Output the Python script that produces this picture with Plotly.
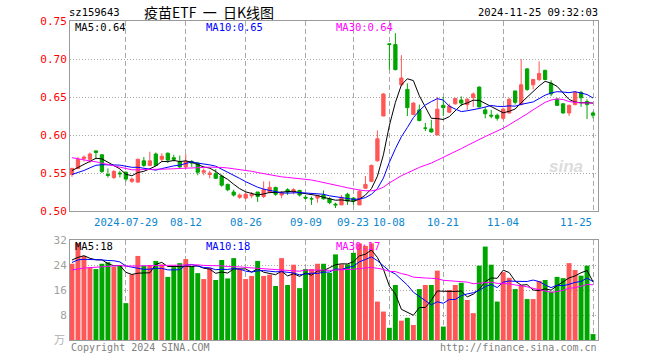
import plotly.graph_objects as go
import pandas as pd

# ---------------- data ----------------
dates = [
    "2024-07-16", "2024-07-17", "2024-07-18", "2024-07-19", "2024-07-22", "2024-07-23", "2024-07-24",
    "2024-07-25", "2024-07-26", "2024-07-29", "2024-07-30", "2024-07-31",
    "2024-08-01", "2024-08-02", "2024-08-05", "2024-08-06", "2024-08-07", "2024-08-08", "2024-08-09",
    "2024-08-12", "2024-08-13", "2024-08-14", "2024-08-15", "2024-08-16", "2024-08-19", "2024-08-20",
    "2024-08-21", "2024-08-22", "2024-08-23", "2024-08-26", "2024-08-27", "2024-08-28", "2024-08-29",
    "2024-08-30",
    "2024-09-02", "2024-09-03", "2024-09-04", "2024-09-05", "2024-09-06", "2024-09-09", "2024-09-10",
    "2024-09-11", "2024-09-12", "2024-09-13", "2024-09-18", "2024-09-19", "2024-09-20", "2024-09-23",
    "2024-09-24", "2024-09-25", "2024-09-26", "2024-09-27", "2024-09-30",
    "2024-10-08", "2024-10-09", "2024-10-10", "2024-10-11", "2024-10-14", "2024-10-15", "2024-10-16",
    "2024-10-17", "2024-10-18", "2024-10-21", "2024-10-22", "2024-10-23", "2024-10-24", "2024-10-25",
    "2024-10-28", "2024-10-29", "2024-10-30", "2024-10-31",
    "2024-11-01", "2024-11-04", "2024-11-05", "2024-11-06", "2024-11-07", "2024-11-08", "2024-11-11",
    "2024-11-12", "2024-11-13", "2024-11-14", "2024-11-15", "2024-11-18", "2024-11-19", "2024-11-20",
    "2024-11-21", "2024-11-22", "2024-11-25",
]

open_ = [
    0.548, 0.556, 0.569, 0.568, 0.579, 0.574, 0.548, 0.544, 0.550, 0.551,
    0.539, 0.538, 0.566, 0.560, 0.575, 0.568, 0.576, 0.570, 0.565, 0.558,
    0.565, 0.563, 0.551, 0.548, 0.549, 0.546, 0.535, 0.525, 0.518, 0.517,
    0.520, 0.525, 0.519, 0.525, 0.531, 0.521, 0.528, 0.525, 0.527, 0.518,
    0.516, 0.517, 0.521, 0.516, 0.509, 0.508, 0.522, 0.517, 0.508, 0.530,
    0.539, 0.566, 0.625, 0.720, 0.719, 0.666, 0.660, 0.627, 0.633, 0.609,
    0.608, 0.600, 0.639, 0.630, 0.641, 0.646, 0.640, 0.649, 0.663, 0.633,
    0.626, 0.626, 0.622, 0.629, 0.658, 0.640, 0.687, 0.666, 0.673, 0.685,
    0.668, 0.647, 0.641, 0.629, 0.640, 0.656, 0.644, 0.629,
]
high = [
    0.557, 0.571, 0.573, 0.577, 0.580, 0.575, 0.556, 0.554, 0.553, 0.552,
    0.544, 0.569, 0.571, 0.578, 0.577, 0.576, 0.577, 0.574, 0.573, 0.575,
    0.567, 0.564, 0.556, 0.553, 0.555, 0.548, 0.536, 0.528, 0.523, 0.524,
    0.525, 0.525, 0.539, 0.539, 0.532, 0.526, 0.530, 0.530, 0.528, 0.521,
    0.519, 0.520, 0.527, 0.518, 0.511, 0.521, 0.524, 0.518, 0.528, 0.546,
    0.561, 0.606, 0.655, 0.720, 0.734, 0.705, 0.668, 0.643, 0.640, 0.616,
    0.620, 0.650, 0.650, 0.641, 0.649, 0.651, 0.649, 0.656, 0.664, 0.637,
    0.633, 0.628, 0.636, 0.649, 0.658, 0.700, 0.688, 0.674, 0.697, 0.686,
    0.672, 0.649, 0.642, 0.640, 0.658, 0.658, 0.647, 0.631,
]
low = [
    0.545, 0.555, 0.565, 0.563, 0.568, 0.550, 0.544, 0.542, 0.544, 0.539,
    0.537, 0.537, 0.558, 0.559, 0.559, 0.564, 0.563, 0.565, 0.556, 0.556,
    0.558, 0.547, 0.547, 0.543, 0.542, 0.532, 0.526, 0.519, 0.516, 0.515,
    0.517, 0.512, 0.517, 0.523, 0.520, 0.517, 0.521, 0.522, 0.519, 0.515,
    0.508, 0.511, 0.515, 0.509, 0.504, 0.508, 0.508, 0.508, 0.508, 0.529,
    0.538, 0.565, 0.625, 0.686, 0.685, 0.665, 0.625, 0.626, 0.618, 0.605,
    0.603, 0.600, 0.625, 0.629, 0.640, 0.638, 0.633, 0.637, 0.636, 0.622,
    0.622, 0.619, 0.620, 0.628, 0.640, 0.639, 0.658, 0.660, 0.671, 0.672,
    0.651, 0.638, 0.628, 0.625, 0.639, 0.637, 0.621, 0.622,
]
close = [
    0.556, 0.568, 0.571, 0.575, 0.577, 0.552, 0.547, 0.552, 0.549, 0.542,
    0.542, 0.568, 0.560, 0.566, 0.560, 0.572, 0.567, 0.568, 0.558, 0.565,
    0.563, 0.551, 0.553, 0.550, 0.543, 0.534, 0.528, 0.521, 0.521, 0.522,
    0.522, 0.519, 0.528, 0.531, 0.522, 0.524, 0.525, 0.528, 0.521, 0.517,
    0.516, 0.520, 0.516, 0.511, 0.508, 0.518, 0.513, 0.513, 0.526, 0.535,
    0.560, 0.595, 0.654, 0.719, 0.686, 0.675, 0.636, 0.642, 0.619, 0.609,
    0.604, 0.634, 0.636, 0.638, 0.648, 0.642, 0.647, 0.654, 0.637, 0.628,
    0.625, 0.622, 0.634, 0.647, 0.643, 0.666, 0.660, 0.673, 0.681, 0.673,
    0.654, 0.639, 0.629, 0.639, 0.656, 0.649, 0.640, 0.626,
]
volume = [  # 万
    24.4, 31.0, 26.9, 23.3, 22.7, 24.4, 24.9, 23.4, 23.8, 11.8,
    21.0, 26.9, 23.8, 24.0, 25.3, 24.2, 20.2, 23.3, 24.6, 25.9,
    23.5, 21.4, 19.5, 23.1, 19.2, 25.6, 19.7, 26.2, 22.7, 19.5,
    20.5, 25.3, 20.5, 20.9, 17.3, 26.2, 17.6, 24.1, 16.6, 22.7,
    22.7, 24.4, 24.4, 21.5, 27.4, 24.2, 24.2, 27.9, 30.9, 30.1,
    30.9, 12.3, 9.1, 3.9, 17.6, 6.2, 7.1, 4.8, 16.3, 17.6,
    17.6, 22.2, 4.3, 16.0, 17.6, 18.3, 12.8, 8.6, 23.8, 29.9,
    24.1, 12.3, 21.7, 19.9, 16.3, 17.6, 13.1, 13.1, 18.9, 19.2,
    15.5, 20.2, 19.8, 24.6, 22.4, 20.6, 23.8, 1.9,
]
# closes / volumes before the visible window, estimated from where the MA lines start
prior_close = [
    0.618, 0.615, 0.612, 0.610, 0.607, 0.605, 0.603, 0.606, 0.604,
    0.575, 0.566, 0.560, 0.558, 0.556, 0.560, 0.562, 0.557, 0.553, 0.550, 0.548,
    0.545, 0.542, 0.540, 0.543, 0.545,
    0.548, 0.551, 0.554, 0.557,
]
prior_volume = [
    18.5, 21.0, 19.2, 17.8, 20.4, 22.1, 18.9, 19.6, 17.5, 20.0,
    23.5, 21.8, 24.6, 22.0, 20.9, 25.3, 23.1, 22.4, 21.7,
    23.7, 22.6, 25.1, 23.4, 24.8, 24.1,
    26.8, 24.2, 27.5, 25.1,
]

tick_dates = ["2024-07-29", "2024-08-12", "2024-08-26", "2024-09-09", "2024-09-23",
              "2024-10-08", "2024-10-21", "2024-11-04", "2024-11-25"]
tick_labels = ["2024-07-29", "08-12", "08-26", "09-09", "09-23", "10-08", "10-21", "11-04", "11-25"]
price_ticks = [0.50, 0.55, 0.60, 0.65, 0.70, 0.75]
volume_ticks = [8, 16, 24, 32]
ma_periods = [5, 10, 30]
ma_colors = ["#000000", "#0000ff", "#ff00ff"]

symbol = "sz159643"
title = "疫苗ETF\u00a0\u00a0一\u00a0\u00a0日K线图"
timestamp = "2024-11-25 09:32:03"

# ---------------- figure ----------------
RED = "#ff5757"
GREEN = "#00a600"
MONO = "DejaVu Sans Mono"

n = len(dates)
x = list(range(n))
tick_idx = [dates.index(d) for d in tick_dates]

cs = pd.Series(prior_close + close)
vs = pd.Series(prior_volume + volume)
price_ma = {p: cs.rolling(p).mean().iloc[len(prior_close):].tolist() for p in ma_periods}
vol_ma = {p: vs.rolling(p).mean().iloc[len(prior_volume):].tolist() for p in ma_periods}

fig = go.Figure()

fig.add_trace(go.Candlestick(
    x=x, open=open_, high=high, low=low, close=close,
    increasing=dict(line=dict(color=RED, width=1), fillcolor=RED),
    decreasing=dict(line=dict(color=GREEN, width=1), fillcolor=GREEN),
    whiskerwidth=0, hoverinfo="skip", xaxis="x", yaxis="y", showlegend=False,
))
for p, c in zip(ma_periods, ma_colors):
    fig.add_trace(go.Scatter(x=x, y=price_ma[p], mode="lines", line=dict(color=c, width=1),
                             hoverinfo="skip", xaxis="x", yaxis="y", showlegend=False))

bar_colors = [RED if c >= o else GREEN for o, c in zip(open_, close)]
fig.add_trace(go.Bar(x=x, y=volume, marker=dict(color=bar_colors, line=dict(width=0)),
                     width=0.82, hoverinfo="skip", xaxis="x2", yaxis="y2", showlegend=False))
for p, c in zip(ma_periods, ma_colors):
    fig.add_trace(go.Scatter(x=x, y=vol_ma[p], mode="lines", line=dict(color=c, width=1),
                             hoverinfo="skip", xaxis="x2", yaxis="y2", showlegend=False))

L, R, T, B = 70, 62, 21, 20
W, H = 660, 360
PW, PH = W - L - R, H - T - B
bottom_px = H - B


def px(xp):
    return (xp - L) / PW


def py(yp):
    return (bottom_px - yp) / PH


price_dom = [py(211), 1]
vol_dom = [0, py(240)]
xr = [-0.33, n - 1 + 0.83]

axis_common = dict(showline=True, mirror=True, linecolor="#9a9a9a", linewidth=1,
                   zeroline=False, ticks="", fixedrange=True)

fig.update_layout(
    width=W, height=H,
    margin=dict(l=L, r=R, t=T, b=B),
    paper_bgcolor="white", plot_bgcolor="white",
    boxgap=0.22,
    bargap=0.18,
    font=dict(family=MONO, size=11),
    xaxis=dict(domain=[0, 1], range=xr, anchor="y", tickvals=tick_idx, showticklabels=False,
               showgrid=True, gridcolor="#a8a8a8", griddash="5px,3px", gridwidth=1,
               rangeslider=dict(visible=False), **axis_common),
    xaxis2=dict(domain=[0, 1], range=xr, anchor="y2", tickvals=tick_idx, showticklabels=False,
                showgrid=True, gridcolor="#a8a8a8", griddash="5px,3px", gridwidth=1,
                **axis_common),
    yaxis=dict(domain=price_dom, range=[price_ticks[0], price_ticks[-1]], anchor="x",
               tickvals=price_ticks, ticktext=[f"{v:.2f}" for v in price_ticks],
               tickfont=dict(family=MONO, size=11, color="#ff0000"),
               showgrid=True, gridcolor="#a8a8a8", griddash="1px,2px", gridwidth=1,
               **axis_common),
    yaxis2=dict(domain=vol_dom, range=[0, 32], anchor="x2",
                tickvals=volume_ticks, ticktext=[str(v) for v in volume_ticks],
                tickfont=dict(family=MONO, size=11, color="#a0a0a0"),
                showgrid=True, gridcolor="#a8a8a8", griddash="1px,2px", gridwidth=1,
                **axis_common),
)

ann = []


def add(text, xpx, ypx, color="#000", size=10.5, anchor="left", family=MONO, **kw):
    ann.append(dict(text=text, x=px(xpx), y=py(ypx), xref="paper", yref="paper",
                    xanchor=anchor, yanchor="middle", showarrow=False,
                    font=dict(family=family, size=size, color=color), **kw))


# header
add(symbol, 67, 12, size=10.5)
add(title, 209, 12, size=14, anchor="center", family="Noto Sans CJK SC")
add(timestamp, 600, 12, size=10.5, anchor="right")

# MA labels (price)
add(f"MA5:{price_ma[5][-1]:.2f}", 73, 27, color=ma_colors[0])
add(f"MA10:{price_ma[10][-1]:.2f}", 204, 27, color=ma_colors[1])
add(f"MA30:{price_ma[30][-1]:.2f}", 334, 27, color=ma_colors[2])
# MA labels (volume)
add(f"MA5:{int(vol_ma[5][-1])}", 73, 246, color=ma_colors[0])
add(f"MA10:{int(vol_ma[10][-1])}", 204, 246, color=ma_colors[1])
add(f"MA30:{int(vol_ma[30][-1])}", 334, 246, color=ma_colors[2])

# date labels
for i, (idx, lab) in enumerate(zip(tick_idx, tick_labels)):
    last = i == len(tick_idx) - 1
    ann.append(dict(text=lab, x=idx, y=py(222), xref="x", yref="paper",
                    xanchor="right" if last else "center", yanchor="middle",
                    xshift=1 if last else 0, showarrow=False,
                    font=dict(family=MONO, size=10.6, color="#0a86d0")))

# volume unit
add("万", 67, 339, color="#b0b0b0", size=11, anchor="right", family="Noto Sans CJK SC")

# footer
add("Copyright 2024 SINA.COM", 69, 347, color="#808080", size=10)
add("http://finance.sina.com.cn", 599, 347, color="#808080", size=10, anchor="right")

# watermark
add("<i><b>sina</b></i>", 566, 166, color="#dcdcdc", size=17, anchor="center", family="Liberation Sans")

fig.update_layout(annotations=ann)

fig.write_html("out.html", config={"displayModeBar": False},
               post_script="document.body.style.margin='0px';")
